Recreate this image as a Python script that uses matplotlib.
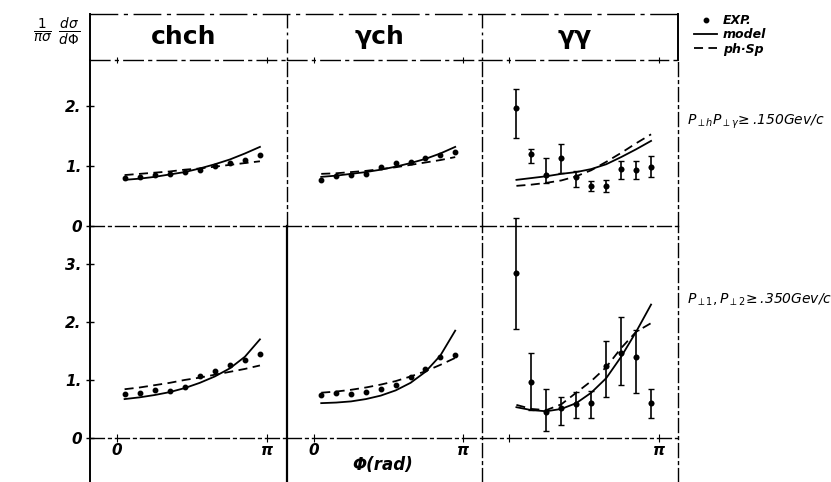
import numpy as np
import matplotlib
matplotlib.use('Agg')
import matplotlib.pyplot as plt
from matplotlib.lines import Line2D

plt.rcParams['font.family'] = ['DejaVu Sans']
plt.rcParams['mathtext.fontset'] = 'dejavusans'

# bin centres, in units of pi
phi = [0.05, 0.15, 0.25, 0.35, 0.45, 0.55, 0.65, 0.75, 0.85, 0.95]

titles = ['chch', 'γch', 'γγ']

# top row : P_T >= 1.50 GeV/c
top_chch_exp = [0.80, 0.82, 0.85, 0.87, 0.90, 0.94, 1.00, 1.05, 1.10, 1.18]
top_chch_model = [0.77, 0.79, 0.82, 0.86, 0.90, 0.96, 1.03, 1.11, 1.21, 1.32]
top_chch_phsp = [0.85, 0.87, 0.89, 0.91, 0.94, 0.96, 0.99, 1.02, 1.05, 1.08]

top_gch_exp = [0.77, 0.83, 0.85, 0.87, 0.98, 1.05, 1.07, 1.13, 1.18, 1.23]
top_gch_model = [0.82, 0.84, 0.87, 0.90, 0.94, 0.99, 1.05, 1.12, 1.21, 1.32]
top_gch_phsp = [0.87, 0.88, 0.90, 0.92, 0.95, 0.98, 1.02, 1.06, 1.10, 1.15]

top_gg_exp = [1.97, 1.20, 0.85, 1.13, 0.82, 0.67, 0.67, 0.95, 0.93, 0.98]
top_gg_lo = [1.47, 1.05, 0.72, 0.88, 0.65, 0.58, 0.57, 0.78, 0.78, 0.82]
top_gg_hi = [2.28, 1.28, 1.13, 1.37, 0.92, 0.75, 0.77, 1.08, 1.08, 1.17]
top_gg_model = [0.77, 0.80, 0.83, 0.87, 0.90, 0.95, 1.03, 1.15, 1.28, 1.42]
top_gg_phsp = [0.67, 0.69, 0.72, 0.76, 0.83, 0.93, 1.07, 1.22, 1.38, 1.53]

# bottom row : P_T >= 3.50 GeV/c
bot_chch_exp = [0.76, 0.78, 0.83, 0.81, 0.88, 1.07, 1.16, 1.26, 1.34, 1.45]
bot_chch_model = [0.67, 0.70, 0.74, 0.79, 0.86, 0.95, 1.06, 1.20, 1.40, 1.70]
bot_chch_phsp = [0.84, 0.87, 0.91, 0.95, 1.00, 1.04, 1.09, 1.14, 1.19, 1.25]

bot_gch_exp = [0.74, 0.78, 0.76, 0.80, 0.84, 0.91, 1.05, 1.19, 1.40, 1.43]
bot_gch_model = [0.60, 0.61, 0.63, 0.67, 0.73, 0.82, 0.95, 1.14, 1.42, 1.85]
bot_gch_phsp = [0.78, 0.80, 0.83, 0.87, 0.92, 0.98, 1.06, 1.15, 1.26, 1.38]

bot_gg_exp = [2.84, 0.97, 0.45, 0.52, 0.59, 0.60, 1.24, 1.47, 1.40, 0.60]
bot_gg_lo = [1.88, 0.48, 0.12, 0.22, 0.34, 0.34, 0.71, 0.91, 0.78, 0.34]
bot_gg_hi = [3.79, 1.47, 0.84, 0.71, 0.79, 0.81, 1.67, 2.09, 1.86, 0.84]
bot_gg_model = [0.53, 0.48, 0.46, 0.50, 0.60, 0.78, 1.03, 1.40, 1.83, 2.30]
bot_gg_phsp = [0.57, 0.50, 0.48, 0.58, 0.78, 0.98, 1.22, 1.55, 1.83, 1.98]

exp_rows = [[top_chch_exp, top_gch_exp, top_gg_exp], [bot_chch_exp, bot_gch_exp, bot_gg_exp]]
model_rows = [[top_chch_model, top_gch_model, top_gg_model], [bot_chch_model, bot_gch_model, bot_gg_model]]
phsp_rows = [[top_chch_phsp, top_gch_phsp, top_gg_phsp], [bot_chch_phsp, bot_gch_phsp, bot_gg_phsp]]
err_rows = [(top_gg_lo, top_gg_hi), (bot_gg_lo, bot_gg_hi)]

yticks_rows = [[0, 1, 2], [0, 1, 2, 3]]
ylabels_rows = [['0', '1.', '2.'], ['0', '1.', '2.', '3.']]
ylims = [(0, 2.77), (-0.76, 3.655)]

W, H = 831, 482
def fx(px): return px / W
def fy(py): return 1 - py / H

fig = plt.figure(figsize=(8.31, 4.82), dpi=100)
fig.patch.set_facecolor('white')

cols = [90, 287, 482, 678]
rows = [(60, 226), (226, 482)]
dashdot = (0, (10, 3, 2, 3))
tickfont = dict(fontsize=11, fontweight='bold', fontstyle='italic')

handles = None
for r in range(2):
    for c in range(3):
        ax = fig.add_axes([fx(cols[c]), fy(rows[r][1]),
                           (cols[c + 1] - cols[c]) / W, (rows[r][1] - rows[r][0]) / H])
        ax.set_facecolor('none')
        ax.set_xlim(-0.18, 1.13)
        ax.set_ylim(*ylims[r])
        for s in ax.spines.values():
            s.set_visible(False)

        l1, = ax.plot(phi, model_rows[r][c], '-', color='k', lw=1.3)
        l2, = ax.plot(phi, phsp_rows[r][c], '--', color='k', lw=1.3, dashes=(5, 3))
        vals = np.array(exp_rows[r][c])
        if c == 2:
            lo, hi = np.array(err_rows[r][0]), np.array(err_rows[r][1])
            ax.errorbar(phi, vals, yerr=[vals - lo, hi - vals], fmt='o', ms=3,
                        color='k', ecolor='k', elinewidth=1.2, capsize=2.5, clip_on=False)
        d, = ax.plot(phi, vals, 'o', color='k', ms=3.2, ls='none')
        if handles is None:
            handles = [d, l1, l2]

        # axes lines
        ax.spines['bottom'].set_visible(True)
        ax.spines['bottom'].set_position(('data', 0))
        ax.spines['bottom'].set_linestyle(dashdot)
        ax.spines['bottom'].set_linewidth(1.0)
        ax.spines['right'].set_visible(True)
        if r == 1 and c == 0:
            ax.spines['right'].set_linewidth(1.6)
        else:
            ax.spines['right'].set_linestyle(dashdot)
            ax.spines['right'].set_linewidth(1.0)
        if c == 0:
            ax.spines['left'].set_visible(True)
            ax.spines['left'].set_linewidth(1.4)
            ax.set_yticks(yticks_rows[r])
            ax.set_yticklabels(ylabels_rows[r], **tickfont)
            ax.tick_params(axis='y', direction='inout', length=6, width=1, pad=3)
        else:
            ax.set_yticks([])

        if r == 0:
            ax.spines['top'].set_visible(True)
            ax.spines['top'].set_linestyle((0, (14, 4, 2, 4)))
            ax.spines['top'].set_linewidth(1.0)
            ax.set_xticks([0, 1])
            ax.tick_params(axis='x', top=True, bottom=False, labeltop=False,
                           labelbottom=False, direction='inout', length=5)
        else:
            ax.set_xticks([0, 1])
            ax.set_xticklabels(['0' if c < 2 else '', 'π'], **tickfont)
            ax.tick_params(axis='x', direction='inout', length=6, pad=1)

# title strip frame
def fline(x0, y0, x1, y1, **kw):
    fig.add_artist(Line2D([fx(x0), fx(x1)], [fy(y0), fy(y1)], color='k', **kw))

fline(90, 14, 90, 60, lw=1.4)
fline(90, 14, 678, 14, lw=1.0, ls=(0, (20, 4, 3, 4)))
fline(678, 14, 678, 60, lw=1.4)
fline(287, 14, 287, 60, lw=1.0, ls=dashdot)
fline(482, 14, 482, 60, lw=1.0, ls=dashdot)

for c, t in enumerate(titles):
    fig.text(fx((cols[c] + cols[c + 1]) / 2 - 5), fy(37), t, fontsize=18,
             fontweight='heavy', ha='center', va='center')

fig.text(fx(57), fy(32), r'$\frac{1}{\pi\sigma}\ \frac{d\sigma}{d\Phi}$',
         fontsize=14, ha='center', va='center')

fig.legend(handles, ['EXP.', 'model', 'ph·Sp'], loc='upper left',
           bbox_to_anchor=(fx(688), fy(8)), frameon=False, handlelength=1.8,
           handletextpad=0.5, labelspacing=0.1, borderpad=0,
           prop=dict(size=9, style='italic', weight='bold'))

fig.text(fx(687), fy(122), r'$P_{\perp h}P_{\perp\gamma}\!\geq$.150Gev/c',
         fontsize=10, fontstyle='italic', ha='left', va='center')
fig.text(fx(687), fy(300), r'$P_{\perp 1},P_{\perp 2}\!\geq$.350Gev/c',
         fontsize=10, fontstyle='italic', ha='left', va='center')

fig.text(fx(383), fy(465), 'Φ(rad)', fontsize=12, fontweight='bold',
         fontstyle='italic', ha='center', va='center')

fig.savefig('out.png', dpi=100, facecolor='white')
